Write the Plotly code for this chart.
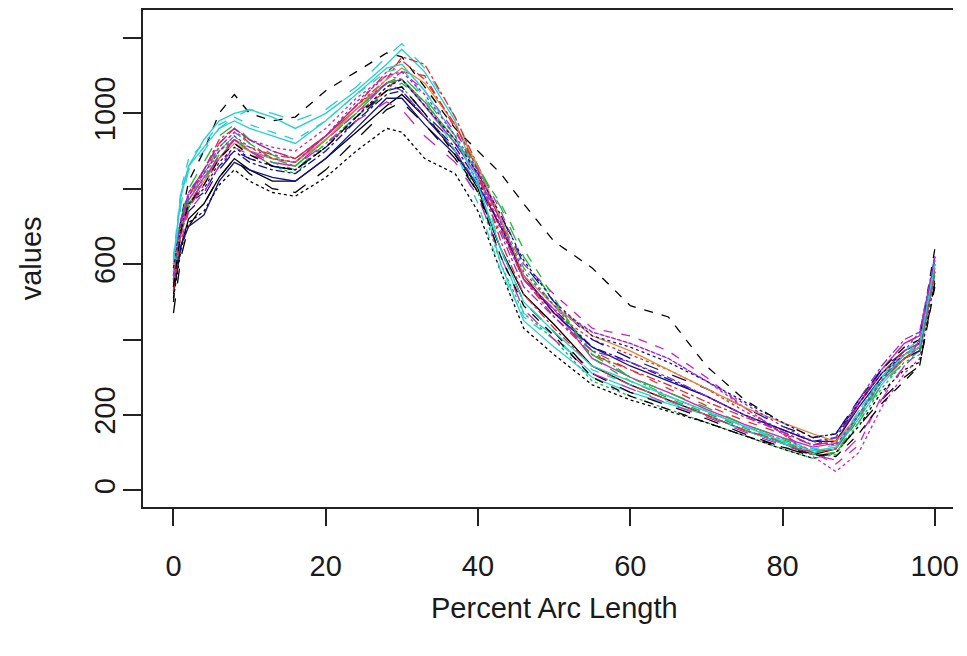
import plotly.graph_objects as go

# ---- data ----
pct_arc = [0, 1, 2, 4, 6, 8, 10, 13, 16, 20, 24, 28, 30, 33, 37, 40,
           43, 46, 50, 55, 60, 65, 70, 75, 80, 84, 87, 90, 93, 96, 98, 100]

curve_01 = [520, 650, 720, 760, 830, 880, 850, 820, 820, 880, 950, 1020, 1050, 990, 900, 800, 640, 520, 440, 330, 280, 240, 200, 160, 125, 95, 110, 200, 290, 350, 370, 580]
curve_02 = [560, 700, 780, 850, 920, 960, 920, 880, 870, 930, 1000, 1060, 1110, 1100, 960, 830, 690, 560, 470, 370, 320, 270, 225, 185, 150, 120, 130, 230, 320, 390, 410, 600]
curve_03 = [540, 680, 750, 830, 900, 940, 900, 860, 840, 920, 990, 1060, 1070, 1000, 900, 790, 600, 470, 400, 290, 250, 215, 180, 145, 110, 85, 95, 180, 270, 340, 360, 570]
curve_04 = [600, 720, 760, 790, 860, 900, 870, 850, 840, 900, 980, 1050, 1060, 990, 910, 820, 700, 560, 480, 380, 340, 295, 250, 200, 160, 130, 140, 230, 310, 370, 390, 610]
curve_05 = [580, 760, 850, 900, 960, 990, 1010, 1000, 980, 1010, 1070, 1150, 1185, 1120, 990, 850, 640, 470, 410, 310, 270, 235, 200, 160, 125, 100, 110, 210, 300, 370, 400, 620]
curve_06 = [550, 700, 770, 830, 880, 930, 900, 880, 870, 940, 1010, 1080, 1090, 1020, 920, 830, 720, 560, 480, 350, 300, 260, 215, 175, 140, 115, 125, 230, 320, 390, 410, 600]
curve_07 = [500, 720, 820, 900, 1000, 1050, 1000, 980, 990, 1060, 1110, 1160, 1150, 1070, 960, 900, 840, 760, 660, 590, 490, 460, 330, 240, 180, 140, 150, 240, 320, 380, 400, 640]
curve_08 = [590, 720, 790, 840, 900, 930, 900, 860, 850, 910, 990, 1070, 1090, 1030, 930, 840, 690, 560, 470, 400, 360, 320, 270, 210, 160, 130, 120, 200, 290, 360, 390, 590]
curve_09 = [560, 700, 770, 840, 910, 950, 920, 880, 860, 930, 1000, 1080, 1090, 1030, 930, 850, 720, 590, 490, 370, 300, 250, 210, 170, 135, 105, 110, 200, 300, 360, 380, 590]
curve_10 = [570, 690, 740, 780, 850, 900, 880, 860, 850, 910, 980, 1060, 1070, 1000, 920, 840, 730, 600, 500, 400, 350, 310, 270, 220, 170, 140, 150, 240, 320, 370, 390, 600]
curve_11 = [600, 780, 860, 930, 980, 1000, 1010, 990, 960, 1000, 1060, 1130, 1170, 1110, 980, 820, 600, 450, 380, 300, 260, 230, 200, 160, 125, 100, 110, 190, 280, 350, 380, 610]
curve_12 = [530, 660, 740, 790, 860, 910, 890, 870, 860, 930, 1000, 1080, 1110, 1060, 950, 860, 740, 600, 520, 430, 410, 370, 300, 220, 150, 100, 70, 120, 250, 330, 370, 580]
curve_13 = [510, 640, 710, 740, 810, 850, 820, 790, 780, 830, 900, 960, 950, 880, 840, 740, 580, 430, 360, 280, 240, 210, 180, 145, 110, 85, 100, 170, 260, 320, 340, 560]
curve_14 = [550, 700, 780, 850, 930, 960, 930, 900, 880, 940, 1020, 1090, 1150, 1130, 990, 860, 710, 560, 460, 360, 320, 280, 235, 195, 155, 120, 130, 230, 310, 370, 390, 600]
curve_15 = [570, 720, 800, 870, 940, 970, 930, 890, 860, 930, 1010, 1080, 1100, 1040, 940, 860, 750, 620, 500, 360, 300, 260, 220, 175, 140, 110, 100, 180, 280, 340, 370, 590]
curve_16 = [540, 650, 700, 730, 820, 870, 850, 830, 820, 880, 960, 1040, 1040, 970, 890, 810, 700, 570, 470, 380, 330, 290, 250, 200, 160, 130, 130, 220, 300, 350, 370, 620]
curve_17 = [620, 800, 880, 920, 970, 990, 970, 950, 930, 980, 1050, 1110, 1120, 1040, 900, 760, 580, 460, 400, 320, 280, 240, 205, 170, 135, 110, 120, 210, 300, 360, 390, 610]
curve_18 = [560, 710, 790, 850, 910, 950, 930, 910, 900, 960, 1040, 1100, 1090, 1020, 920, 840, 700, 560, 480, 420, 390, 350, 290, 220, 150, 90, 50, 100, 220, 310, 350, 570]
curve_19 = [570, 720, 790, 850, 920, 960, 930, 900, 880, 940, 1020, 1080, 1060, 990, 900, 810, 680, 540, 460, 370, 340, 300, 250, 200, 155, 120, 140, 240, 330, 400, 420, 610]
curve_20 = [470, 620, 700, 760, 830, 880, 840, 800, 790, 850, 930, 1010, 1030, 970, 880, 790, 640, 500, 420, 310, 260, 225, 190, 150, 115, 90, 100, 170, 240, 300, 330, 550]
curve_21 = [580, 700, 760, 820, 880, 920, 900, 880, 870, 930, 1010, 1090, 1120, 1080, 970, 860, 720, 570, 490, 410, 370, 320, 270, 220, 180, 150, 130, 200, 290, 350, 380, 590]
curve_22 = [560, 690, 760, 820, 890, 930, 900, 870, 850, 920, 990, 1060, 1080, 1030, 920, 850, 760, 640, 510, 350, 290, 245, 205, 165, 125, 95, 100, 190, 290, 350, 370, 580]
curve_23 = [590, 700, 760, 800, 870, 910, 880, 860, 850, 910, 990, 1070, 1090, 1020, 930, 840, 730, 610, 500, 410, 380, 340, 290, 235, 180, 140, 150, 230, 310, 360, 380, 600]
curve_24 = [530, 680, 750, 810, 880, 930, 910, 890, 880, 940, 1020, 1110, 1140, 1090, 970, 850, 660, 520, 430, 330, 280, 240, 200, 160, 130, 100, 110, 200, 290, 350, 380, 590]
curve_25 = [550, 690, 760, 820, 890, 930, 900, 870, 860, 920, 980, 1030, 1010, 940, 870, 780, 620, 480, 400, 310, 270, 230, 195, 155, 120, 95, 80, 140, 240, 330, 400, 620]
curve_26 = [610, 790, 860, 910, 960, 980, 960, 940, 920, 980, 1050, 1120, 1130, 1060, 940, 810, 640, 500, 420, 330, 290, 250, 210, 170, 130, 105, 115, 200, 290, 360, 380, 600]
curve_27 = [540, 690, 760, 810, 880, 920, 890, 860, 850, 910, 990, 1060, 1070, 1000, 890, 790, 620, 490, 410, 300, 250, 215, 180, 145, 115, 95, 90, 150, 230, 290, 330, 540]
curve_28 = [570, 710, 780, 840, 900, 940, 910, 880, 870, 940, 1030, 1100, 1110, 1050, 940, 850, 710, 580, 490, 420, 390, 350, 290, 230, 170, 130, 120, 200, 290, 370, 420, 620]

curves = [curve_01, curve_02, curve_03, curve_04, curve_05, curve_06, curve_07,
          curve_08, curve_09, curve_10, curve_11, curve_12, curve_13, curve_14,
          curve_15, curve_16, curve_17, curve_18, curve_19, curve_20, curve_21,
          curve_22, curve_23, curve_24, curve_25, curve_26, curve_27, curve_28]

y_tick_vals = [0, 200, 400, 600, 800, 1000, 1200]
y_tick_text = ["0", "200", "", "600", "", "1000", ""]
x_tick_vals = [0, 20, 40, 60, 80, 100]

# ---- styles ----
colors = ["#000000", "#E8272D", "#1DB83A", "#101090", "#25D0D5", "#D020C8",
          "#000000", "#E8272D", "#1DB83A", "#101090", "#25D0D5", "#D020C8",
          "#000000", "#E8272D", "#1DB83A", "#101090", "#25D0D5", "#D020C8",
          "#8A2BE2", "#000000", "#E08A30", "#1DB83A", "#101090", "#E8272D",
          "#D020C8", "#25D0D5", "#000000", "#8A2BE2"]
dashes = ["solid", "dash", "dot", "dashdot", "longdash"]

FONT = "Liberation Sans, Arial, sans-serif"

fig = go.Figure()
for i, vals in enumerate(curves):
    fig.add_trace(go.Scatter(
        x=pct_arc, y=vals, mode="lines",
        line=dict(color=colors[i % len(colors)], width=1.3,
                  dash=dashes[i % len(dashes)]),
        showlegend=False, hoverinfo="skip"))

# page has an 8px body margin, so the figure is drawn 8px right/down
fig.update_layout(
    width=951, height=620,
    margin=dict(l=135, r=0, t=1, b=121),
    paper_bgcolor="white", plot_bgcolor="white",
    font=dict(family=FONT, size=29, color="#1a1a1a"),
    xaxis=dict(range=[-4, 102.39], tickvals=x_tick_vals,
               ticks="outside", ticklen=17, tickwidth=1.5, tickcolor="#222",
               showline=True, linecolor="#222", linewidth=1.5, mirror=True,
               showgrid=False, zeroline=False, ticklabeloverflow="allow",
               tickfont=dict(size=29), ticklabelstandoff=15),
    yaxis=dict(range=[-44, 1274], tickvals=y_tick_vals, ticktext=y_tick_text,
               ticks="outside", ticklen=18, tickwidth=1.5, tickcolor="#222",
               showline=True, linecolor="#222", linewidth=1.5,
               showgrid=False, zeroline=False, tickangle=-90,
               tickfont=dict(size=29), ticklabelstandoff=-3),
    annotations=[
        dict(text="Percent Arc Length", xref="paper", yref="paper",
             x=0.5081, y=-0.203, xanchor="center", yanchor="middle",
             showarrow=False, font=dict(size=29)),
        dict(text="values", xref="paper", yref="paper",
             x=-0.1385, y=0.5, xanchor="center", yanchor="middle",
             textangle=-90, showarrow=False, font=dict(size=29)),
    ],
)

fig.write_html("out.html")
